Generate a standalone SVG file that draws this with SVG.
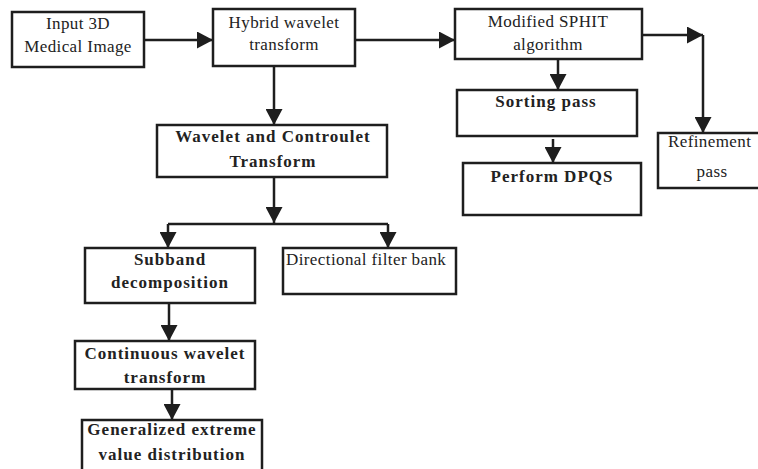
<svg xmlns="http://www.w3.org/2000/svg" width="758" height="469" viewBox="0 0 758 469">
<style>
.box{fill:#fff;stroke:#1e1e1e;stroke-width:2.5}
.t{font-family:"Liberation Serif","Times New Roman",serif;font-size:17px;fill:#222;letter-spacing:0.4px}
.b{font-family:"Liberation Serif","Times New Roman",serif;font-size:17px;font-weight:bold;fill:#222;letter-spacing:1px}
.m{text-anchor:middle}
.c{fill:none;stroke:#1e1e1e;stroke-width:2.5}
</style>
<defs>
<marker id="ah" markerUnits="userSpaceOnUse" markerWidth="17" markerHeight="17" refX="16" refY="8.5" orient="auto">
<path d="M0,0 L16,8.5 L0,17 z" fill="#1e1e1e"/>
</marker>
</defs>
<rect width="758" height="469" fill="#fff"/>
<g id="connectors">
<path class="c" d="M144,40 H213" marker-end="url(#ah)"/>
<path class="c" d="M274,66 V125" marker-end="url(#ah)"/>
<path class="c" d="M355,40 H455" marker-end="url(#ah)"/>
<path class="c" d="M558,59 V90" marker-end="url(#ah)"/>
<path class="c" d="M553,139 V163" marker-end="url(#ah)"/>
<path class="c" d="M642,35 H703" marker-end="url(#ah)"/>
<path class="c" d="M703,35 V133" marker-end="url(#ah)"/>
<path class="c" d="M274,177 V223" marker-end="url(#ah)"/>
<path class="c" d="M168,224 H388"/>
<path class="c" d="M168,224 V248" marker-end="url(#ah)"/>
<path class="c" d="M388,224 V248" marker-end="url(#ah)"/>
<path class="c" d="M169,303 V341" marker-end="url(#ah)"/>
<path class="c" d="M172,389 V420" marker-end="url(#ah)"/>
</g>
<g id="input">
<rect class="box" x="12" y="12" width="132" height="55"/>
<text class="t m" x="78" y="29">Input 3D</text>
<text class="t m" x="78" y="52">Medical Image</text>
</g>
<g id="hybrid">
<rect class="box" x="213" y="9" width="142" height="57"/>
<text class="t m" x="284" y="28">Hybrid wavelet</text>
<text class="t m" x="284" y="50">transform</text>
</g>
<g id="wavelet">
<rect class="box" x="157" y="125" width="230" height="52"/>
<text class="b m" x="273" y="142">Wavelet and Controulet</text>
<text class="b m" x="273" y="167">Transform</text>
</g>
<g id="sphit">
<rect class="box" x="455" y="9" width="187" height="50"/>
<text class="t m" x="548" y="27">Modified SPHIT</text>
<text class="t m" x="548" y="50">algorithm</text>
</g>
<g id="sorting">
<rect class="box" x="457" y="90" width="180" height="46"/>
<text class="b m" x="546" y="107">Sorting pass</text>
</g>
<g id="dpqs">
<rect class="box" x="463" y="163" width="178" height="52"/>
<text class="b m" x="552" y="182">Perform DPQS</text>
</g>
<g id="refinement">
<rect class="box" x="658" y="133" width="110" height="55"/>
<text class="t" x="668" y="147">Refinement</text>
<text class="t m" x="712" y="177">pass</text>
</g>
<g id="subband">
<rect class="box" x="85" y="248" width="170" height="55"/>
<text class="b m" x="170" y="265">Subband</text>
<text class="b m" x="170" y="288">decomposition</text>
</g>
<g id="directional">
<rect class="box" x="283" y="248" width="173" height="46"/>
<text class="t" x="286" y="265">Directional filter bank</text>
</g>
<g id="continuous">
<rect class="box" x="75" y="341" width="180" height="48"/>
<text class="b m" x="165" y="359">Continuous wavelet</text>
<text class="b m" x="165" y="383">transform</text>
</g>
<g id="generalized">
<rect class="box" x="82" y="420" width="180" height="60"/>
<text class="b m" x="172" y="435">Generalized extreme</text>
<text class="b m" x="172" y="460">value distribution</text>
</g>
</svg>
